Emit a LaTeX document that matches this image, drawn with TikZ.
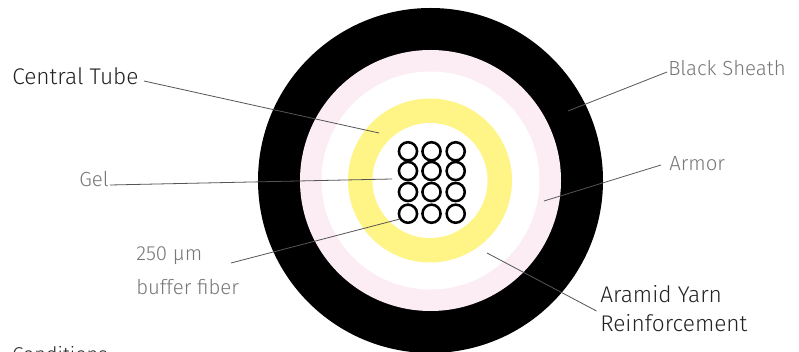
\documentclass[tikz,border=0pt]{standalone}
\usepackage{fontspec}
\setmainfont{Fira Sans Light}
\definecolor{lbl}{HTML}{777777}
\definecolor{ink}{HTML}{222222}
\definecolor{ldr}{HTML}{555555}
\definecolor{pinkring}{HTML}{FCEDF4}
\definecolor{yel}{HTML}{FFF586}
\tikzset{x=0.75pt,y=-0.75pt,
  disc/.style={circle,inner sep=0,outer sep=0,minimum size=#1*0.75pt},
  fib/.style={circle,draw=black,line width=1.9pt,fill=white,inner sep=0,outer sep=0,minimum size=13.6pt},
  lab/.style={text=lbl,font=\fontsize{15.3}{16}\selectfont,inner sep=0,anchor=base west},
  labd/.style={text=ink,font=\fontsize{17}{18}\selectfont,inner sep=0,anchor=base west},
  leader/.style={draw=ldr,line width=0.6pt}}
\begin{document}
\begin{tikzpicture}
\useasboundingbox (0,0) rectangle (799,352);
\clip (0,0) rectangle (799,352);
\fill[white] (0,0) rectangle (799,352);
\node[disc=345,fill=black] (sheath) at (430.5,180.5) {};
\node[disc=261,fill=pinkring] (armor) at (430.5,180.5) {};
\node[disc=218,fill=white] (gap) at (430.5,180.5) {};
\node[disc=164,fill=yel] (yarn) at (430,180.5) {};
\node[disc=115,fill=white] (gel) at (430,180.5) {};
\foreach \r/\y in {1/151.3,2/171,3/192,4/213.7}{
  \node[fib] (f\r a) at (408,\y) {};
  \node[fib] (f\r b) at (431.5,\y) {};
  \node[fib] (f\r c) at (455.7,\y) {};
}
\node[labd] (tube) at (12,85) {Central Tube};
\node[lab] (lgel) at (79,187) {Gel};
\node[lab] (l250) at (136,261) {250 µm};
\node[lab] (lbuf) at (136,295) {buffer fiber};
\node[lab] (lsheath) at (668,76) {Black Sheath};
\node[lab] (larmor) at (669,171) {Armor};
\node[labd] (l1) at (600,303) {Aramid Yarn};
\node[labd] (l2) at (600,332) {Reinforcement};
\node[labd,font=\fontsize{15}{16}\selectfont] (cond) at (12,362) {Conditions};
\coordinate (a1) at (144,81); \coordinate (b1) at (379,133);
\coordinate (a2) at (110,185); \coordinate (b2) at (392,179);
\coordinate (a3) at (231,263); \coordinate (b3) at (400,219);
\coordinate (a4) at (667,72); \coordinate (b4) at (568,111);
\coordinate (a5) at (661,165); \coordinate (b5) at (544,201);
\coordinate (a6) at (596.5,311); \coordinate (b6) at (487,253);
\foreach \i in {1,...,6} \draw[leader] (a\i) -- (b\i);
\end{tikzpicture}
\end{document}
